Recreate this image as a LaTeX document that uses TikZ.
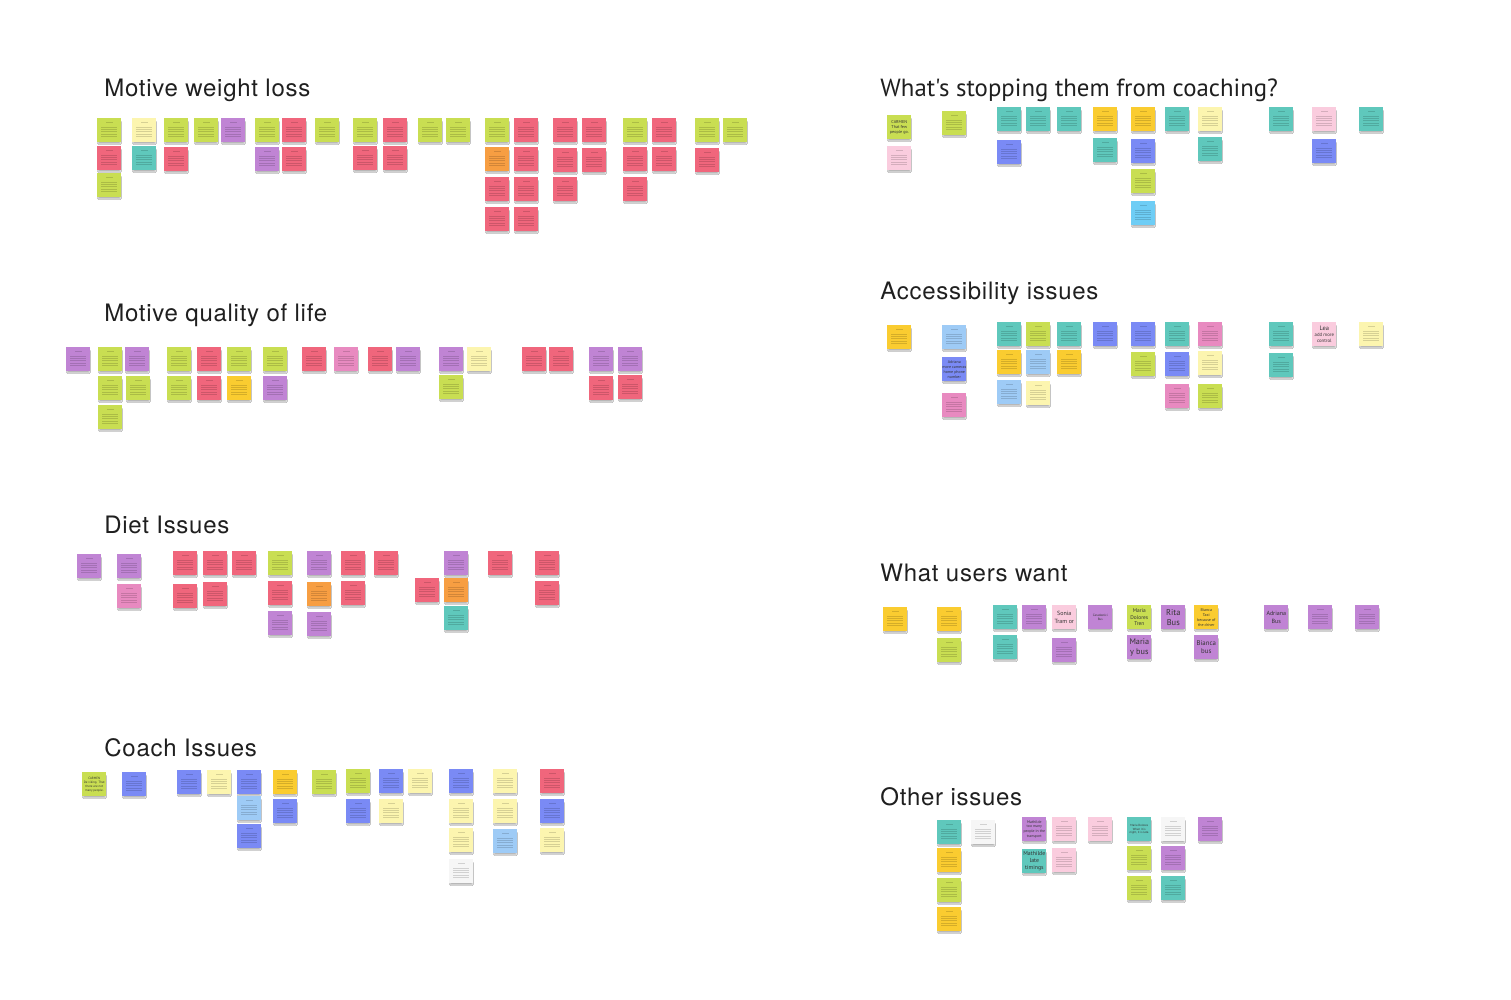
\documentclass[tikz,border=0pt]{standalone}
\usepackage{fontspec}
\setmainfont{TeX Gyre Heros}
\newfontfamily\titlefont[LetterSpace=3]{TeX Gyre Heros}
\newfontfamily\qfont{PT Sans}
\newfontfamily\notefont{PT Sans}
\usetikzlibrary{shadows.blur}
\definecolor{cG}{RGB}{201,222,82}
\definecolor{cR}{RGB}{240,102,124}
\definecolor{cY}{RGB}{252,245,175}
\definecolor{cT}{RGB}{95,200,188}
\definecolor{cP}{RGB}{192,132,212}
\definecolor{cO}{RGB}{247,158,66}
\definecolor{cAu}{RGB}{250,204,48}
\definecolor{cB}{RGB}{122,138,245}
\definecolor{cLB}{RGB}{158,203,246}
\definecolor{cPk}{RGB}{232,138,192}
\definecolor{cLP}{RGB}{250,204,222}
\definecolor{cW}{RGB}{246,246,246}
\definecolor{cC}{RGB}{110,205,245}
\newcounter{stkn}
\tikzset{
  stick/.style={rectangle, minimum width=12.1pt, minimum height=12.1pt, inner sep=0pt, draw=none,
    blur shadow={shadow xshift=0pt, shadow yshift=-1.3pt, shadow scale=0.9, shadow blur radius=0.6pt, shadow opacity=30}},
  tl/.style={line width=0.25pt, black, opacity=0.15},
  title/.style={anchor=base west, inner sep=0pt, font=\titlefont\fontsize{12}{14}\selectfont, text=black!88},
}
\newcommand\stk[3]{\stepcounter{stkn}\edef\sn{s\arabic{stkn}}%
  \node[stick, fill=#3] (\sn) at (#1+12.3,#2+12.3) {};
  \draw[tl] ([yshift=4.1pt]\sn.center) ++(-1.6pt,0) -- ++(3.2pt,0);
  \foreach \k in {1,...,5}{\draw[tl] ([yshift={2.9pt-\k*1.2pt}]\sn.center) ++(-4pt,0) -- ++(8pt,0);}}
\newcommand\stt[6]{\stepcounter{stkn}\edef\sn{s\arabic{stkn}}%
  \node[stick, fill=#3, align=center, text=black!80, font=\notefont\fontsize{#5}{#6}\selectfont] (\sn) at (#1+12.3,#2+12.3) {#4};}
\begin{document}
\begin{tikzpicture}[x=0.5pt,y=-0.5pt]
\useasboundingbox (0,0) rectangle (1511,1000);
\fill[white] (0,0) rectangle (1511,1000);
% titles
\node[title] (t1) at (104,97) {Motive weight loss};
\node[title] (t2) at (104,322) {Motive quality of life};
\node[title] (t3) at (104,533) {Diet Issues};
\node[title] (t4) at (104,756) {Coach Issues};
\node[title, font=\qfont\fontsize{12.4}{14}\selectfont] (t5) at (880,97) {What's stopping them from coaching?};
\node[title] (t6) at (880,300) {Accessibility issues};
\node[title] (t7) at (880,581) {What users want};
\node[title] (t8) at (880,805) {Other issues};
% Motive weight loss
\stk{97}{118}{cG}\stk{97}{146}{cR}\stk{97}{173}{cG}
\stk{132}{118}{cY}\stk{132}{146}{cT}
\stk{164}{118}{cG}\stk{164}{147}{cR}
\stk{194}{118}{cG}
\stk{221}{118}{cP}
\stk{255}{118}{cG}\stk{255}{147}{cP}
\stk{282}{118}{cR}\stk{282}{147}{cR}
\stk{315}{118}{cG}
\stk{353}{118}{cG}\stk{353}{146}{cR}
\stk{383}{118}{cR}\stk{383}{146}{cR}
\stk{418}{118}{cG}
\stk{446}{118}{cG}
\stk{485}{118}{cG}\stk{485}{147}{cO}\stk{485}{177}{cR}\stk{485}{207}{cR}
\stk{514}{118}{cR}\stk{514}{147}{cR}\stk{514}{177}{cR}\stk{514}{207}{cR}
\stk{553}{118}{cR}\stk{553}{148}{cR}\stk{553}{177}{cR}
\stk{582}{118}{cR}\stk{582}{148}{cR}
\stk{623}{118}{cG}\stk{623}{147}{cR}\stk{623}{177}{cR}
\stk{652}{118}{cR}\stk{652}{147}{cR}
\stk{695}{118}{cG}\stk{695}{148}{cR}
\stk{723}{118}{cG}
% Motive quality of life
\stk{66}{347}{cP}
\stk{98}{347}{cG}\stk{98}{376}{cG}\stk{98}{405}{cG}
\stk{125}{347}{cP}\stk{126}{376}{cG}
\stk{167}{347}{cG}\stk{167}{376}{cG}
\stk{197}{347}{cR}\stk{197}{376}{cR}
\stk{227}{347}{cG}\stk{227}{376}{cAu}
\stk{263}{347}{cG}\stk{263}{376}{cP}
\stk{302}{347}{cR}
\stk{334}{347}{cPk}
\stk{368}{347}{cR}
\stk{396}{347}{cP}
\stk{439}{347}{cP}\stk{439}{375}{cG}
\stk{467}{347}{cY}
\stk{522}{347}{cR}
\stk{549}{347}{cR}
\stk{589}{347}{cP}\stk{589}{376}{cR}
\stk{618}{347}{cP}\stk{618}{375}{cR}
% Diet issues
\stk{77}{554}{cP}
\stk{117}{554}{cP}\stk{117}{584}{cPk}
\stk{173}{551}{cR}\stk{173}{584}{cR}
\stk{203}{551}{cR}\stk{203}{582}{cR}
\stk{232}{551}{cR}
\stk{268}{551}{cG}\stk{268}{581}{cR}\stk{268}{611}{cP}
\stk{307}{551}{cP}\stk{307}{582}{cO}\stk{307}{612}{cP}
\stk{341}{551}{cR}\stk{341}{581}{cR}
\stk{374}{551}{cR}
\stk{415}{578}{cR}
\stk{444}{551}{cP}\stk{444}{578}{cO}\stk{444}{606}{cT}
\stk{488}{551}{cR}
\stk{535}{551}{cR}\stk{535}{581}{cR}
% Coach issues
\stt{82}{772}{cG}{CARMEN\\De viking. That\\there are not\\many people.}{1.6}{2}
\stk{122}{772}{cB}
\stk{177}{770}{cB}
\stk{207}{770}{cY}
\stk{237}{770}{cB}\stk{237}{796}{cLB}\stk{237}{824}{cB}
\stk{273}{770}{cAu}\stk{273}{799}{cB}
\stk{312}{770}{cG}
\stk{346}{769}{cG}\stk{346}{799}{cB}
\stk{379}{769}{cB}\stk{379}{799}{cY}
\stk{408}{769}{cY}
\stk{449}{769}{cB}\stk{449}{799}{cY}\stk{449}{828}{cY}\stk{449}{859}{cW}
\stk{493}{769}{cY}\stk{493}{799}{cY}\stk{493}{829}{cLB}
\stk{540}{769}{cR}\stk{540}{799}{cB}\stk{540}{828}{cY}
% What's stopping them
\stt{887}{115}{cG}{CARMEN\\That few\\people go.}{2.1}{2.6}
\stk{887}{146}{cLP}
\stk{942}{111}{cG}
\stk{997}{107}{cT}\stk{997}{140}{cB}
\stk{1026}{107}{cT}
\stk{1057}{107}{cT}
\stk{1093}{107}{cAu}\stk{1093}{138}{cT}
\stk{1131}{107}{cAu}\stk{1131}{139}{cB}\stk{1131}{169}{cG}\stk{1131}{201}{cC}
\stk{1165}{107}{cT}
\stk{1198}{107}{cY}\stk{1198}{137}{cT}
\stk{1269}{107}{cT}
\stk{1312}{107}{cLP}\stk{1312}{139}{cB}
\stk{1359}{107}{cT}
% Accessibility issues
\stk{887}{325}{cAu}
\stk{942}{325}{cLB}\stt{942}{357}{cB}{Adriana\\more cameras\\home phone\\number}{2}{2.5}\stk{942}{393}{cPk}
\stk{997}{322}{cT}\stk{997}{350}{cAu}\stk{997}{380}{cLB}
\stk{1026}{322}{cG}\stk{1026}{350}{cLB}\stk{1026}{381}{cY}
\stk{1057}{322}{cT}\stk{1057}{350}{cAu}
\stk{1093}{322}{cB}
\stk{1131}{322}{cB}\stk{1131}{352}{cG}
\stk{1165}{322}{cT}\stk{1165}{352}{cB}\stk{1165}{384}{cPk}
\stk{1198}{322}{cPk}\stk{1198}{351}{cY}\stk{1198}{384}{cG}
\stk{1269}{322}{cT}\stk{1269}{353}{cT}
\stt{1312}{322}{cLP}{{\fontsize{3.2}{3.8}\selectfont Lea}\\add more\\control}{2.4}{3}
\stk{1359}{322}{cY}
% What users want
\stk{883}{607}{cAu}
\stk{937}{607}{cAu}\stk{937}{638}{cG}
\stk{993}{605}{cT}\stk{993}{635}{cT}
\stk{1022}{605}{cP}
\stt{1052}{605}{cLP}{Sonia\\Tram or}{3}{3.8}\stk{1052}{638}{cP}
\stt{1088}{605}{cP}{Caradestici\\Bus}{1.6}{2}
\stt{1127}{605}{cG}{Maria\\Dolores\\Tren}{2.7}{3.3}\stt{1127}{635}{cP}{Maria\\y bus}{4.1}{5}
\stt{1161}{605}{cP}{Rita\\Bus}{4.2}{5}
\stt{1194}{605}{cAu}{Bianca\\Taxi\\because of\\the driver}{2}{2.5}\stt{1194}{635}{cP}{Bianca\\bus}{3.4}{4.1}
\stt{1264}{605}{cP}{Adriana\\Bus}{3}{3.7}
\stk{1308}{605}{cP}
\stk{1355}{605}{cP}
% Other issues
\stk{937}{820}{cT}\stk{937}{848}{cAu}\stk{937}{878}{cG}\stk{937}{907}{cAu}
\stk{971}{820}{cW}
\stt{1022}{817}{cP}{Mathilde\\too many\\people in the\\transport}{1.9}{2.4}\stt{1022}{849}{cT}{Mathilde\\late\\timings}{2.9}{3.5}
\stk{1052}{817}{cLP}\stk{1052}{848}{cLP}
\stk{1088}{817}{cLP}
\stt{1127}{817}{cT}{Maria Dolores\\When it is\\night, it is late.}{1.5}{1.9}\stk{1127}{846}{cG}\stk{1127}{876}{cG}
\stk{1161}{817}{cW}\stk{1161}{846}{cP}\stk{1161}{876}{cT}
\stk{1198}{817}{cP}
\end{tikzpicture}
\end{document}
